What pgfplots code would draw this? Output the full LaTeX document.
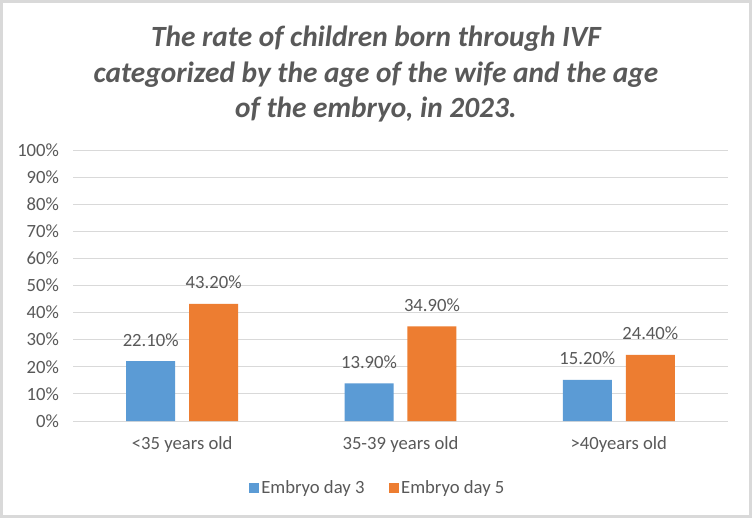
\documentclass[border=0pt]{standalone}
\usepackage{pgfplots}
\pgfplotsset{compat=1.18}
\usepackage{fontspec}
\setmainfont{Carlito}
\definecolor{barblue}{HTML}{5B9BD5}
\definecolor{barorange}{HTML}{ED7D31}
\definecolor{txtgray}{HTML}{595959}
\definecolor{gridgray}{HTML}{D9D9D9}
\begin{document}
\begin{tikzpicture}
% frame of the whole chart, 752x518 px at 0.75pt per px
\fill[white] (0,0) rectangle (564pt,388.5pt);
\draw[gridgray, line width=2.25pt] (1.1pt,1.1pt) rectangle (562.9pt,387.4pt);
\node[align=center, text=txtgray, font=\bfseries\itshape\fontsize{22}{26.5}\selectfont]
  at (282pt,333pt) {The rate of children born through IVF\\categorized by the age of the wife and the age\\of the embryo, in 2023.};
\begin{axis}[
    at={(54.75pt,72.75pt)}, anchor=south west,
    scale only axis,
    width=491.25pt, height=203.25pt,
    xmin=-0.5, xmax=2.5,
    ymin=0, ymax=100,
    xtick={0,1,2},
    xticklabels={<35 years old,35-39 years old,>40years old},
    ytick={0,10,...,100},
    yticklabels={0\%,10\%,20\%,30\%,40\%,50\%,60\%,70\%,80\%,90\%,100\%},
    ymajorgrids=true,
    grid style={gridgray, line width=0.75pt},
    axis line style={draw=none},
    major tick length=0pt,
    tick label style={text=txtgray, font=\fontsize{14}{16}\selectfont},
    yticklabel style={xshift=-7pt},
    xticklabel style={yshift=-8pt},
    /pgf/number format/assume math mode=true,
    ybar,
    bar width=36.75pt,
    point meta=explicit symbolic,
    nodes near coords,
    every node near coord/.append style={text=txtgray, font=\fontsize{14}{16}\selectfont, inner sep=0pt, anchor=south, yshift=11pt},
    legend style={at={(0.5,-0.247)}, anchor=center, xshift=-17pt, draw=none, legend columns=2,
        font=\fontsize{14}{16}\selectfont, text=txtgray,
        /tikz/every even column/.append style={column sep=17pt},
        nodes={inner sep=1.5pt}},
    legend image code/.code={\fill[#1,draw=none] (0pt,-3.75pt) rectangle (7.5pt,3.75pt);},
]
\addplot[fill=barblue, draw=none, bar shift=-23.6pt]
    coordinates {(0,22.1) [22.10\%] (1,13.9) [13.90\%] (2,15.2) [15.20\%]};
\addplot[fill=barorange, draw=none, bar shift=23.6pt]
    coordinates {(0,43.2) [43.20\%] (1,34.9) [34.90\%] (2,24.4) [24.40\%]};
\legend{Embryo day 3,Embryo day 5}
\end{axis}
\end{tikzpicture}
\end{document}
